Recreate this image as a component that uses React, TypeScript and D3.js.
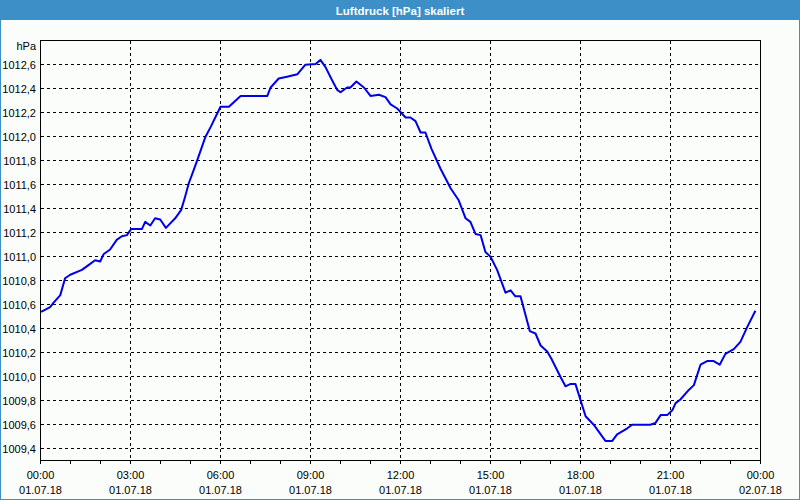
import React from "react";
import * as d3 from "d3";

// Time of day in hours (01.07.18 00:00 = 0)
const hours: number[] = [
  0.02, 0.32, 0.43, 0.66, 0.82, 0.99, 1.38, 1.6, 1.82, 1.99, 2.1, 2.32, 2.54, 2.71, 2.88,
  3.02, 3.38, 3.49, 3.66, 3.82, 3.99, 4.18, 4.49, 4.69, 4.82, 4.94, 5.06, 5.22, 5.5, 5.67,
  6.0, 6.28, 6.67, 7.56, 7.67, 7.94, 8.22, 8.56, 8.83, 9.17, 9.33, 9.5, 9.72, 9.89, 10.0,
  10.22, 10.33, 10.53, 10.78, 11.0, 11.28, 11.5, 11.67, 11.89, 12.17, 12.33, 12.5, 12.67,
  12.83, 13.03, 13.33, 13.67, 13.94, 14.17, 14.33, 14.5, 14.67, 14.83, 15.0, 15.22, 15.5,
  15.67, 15.83, 16.0, 16.31, 16.5, 16.67, 16.89, 17.03, 17.33, 17.5, 17.67, 17.83, 18.17,
  18.44, 18.83, 19.06, 19.22, 19.56, 19.72, 20.33, 20.5, 20.67, 20.89, 21.06, 21.17, 21.33,
  21.61, 21.78, 22.0, 22.22, 22.44, 22.64, 22.83, 23.11, 23.33, 23.56, 23.83,
];

// Air pressure in hPa
const pressure: number[] = [
  1010.53, 1010.57, 1010.605, 1010.67, 1010.81, 1010.84, 1010.88, 1010.92, 1010.96, 1010.95,
  1011.01, 1011.05, 1011.13, 1011.16, 1011.17, 1011.22, 1011.22, 1011.28, 1011.25, 1011.31,
  1011.3, 1011.23, 1011.31, 1011.38, 1011.49, 1011.6, 1011.68, 1011.79, 1011.99, 1012.07,
  1012.24, 1012.24, 1012.33, 1012.33, 1012.4, 1012.475, 1012.49, 1012.51, 1012.59, 1012.595,
  1012.63, 1012.57, 1012.46, 1012.38, 1012.36, 1012.4, 1012.4, 1012.45, 1012.4, 1012.33,
  1012.34, 1012.32, 1012.26, 1012.225, 1012.15, 1012.15, 1012.12, 1012.025, 1012.025,
  1011.89, 1011.725, 1011.56, 1011.46, 1011.31, 1011.28, 1011.18, 1011.17, 1011.03, 1010.99,
  1010.88, 1010.69, 1010.71, 1010.66, 1010.66, 1010.37, 1010.35, 1010.25, 1010.2, 1010.14,
  1009.99, 1009.91, 1009.93, 1009.93, 1009.66, 1009.59, 1009.455, 1009.455, 1009.51, 1009.56,
  1009.59, 1009.59, 1009.605, 1009.67, 1009.67, 1009.71, 1009.77, 1009.8, 1009.88, 1009.92,
  1010.09, 1010.12, 1010.12, 1010.09, 1010.18, 1010.22, 1010.28, 1010.405, 1010.54,
];

const yTicks: number[] = [
  1009.4, 1009.6, 1009.8, 1010.0, 1010.2, 1010.4, 1010.6, 1010.8, 1011.0, 1011.2, 1011.4,
  1011.6, 1011.8, 1012.0, 1012.2, 1012.4, 1012.6,
];
const xTickHours: number[] = [0, 3, 6, 9, 12, 15, 18, 21, 24];
const xTickTimes: string[] = ["00:00", "03:00", "06:00", "09:00", "12:00", "15:00", "18:00", "21:00", "00:00"];
const xTickDates: string[] = ["01.07.18", "01.07.18", "01.07.18", "01.07.18", "01.07.18", "01.07.18", "01.07.18", "01.07.18", "02.07.18"];
const minorHours: number[] = d3.range(0, 25, 1);

const title = "Luftdruck [hPa] skaliert";
const unit = "hPa";

const W = 800;
const H = 500;
const L = 40.5;
const R = 760.5;
const T = 40.5;
const B = 460.5;
const FRAME = "#3c8fc7";
const FONT = "'Liberation Sans', Arial, sans-serif";

export default function App() {
  const x = d3.scaleLinear().domain([0, 24]).range([L, R]);
  const y = d3.scaleLinear().domain([1009.2917, 1012.7917]).range([B, T]);
  const line = d3
    .line<number>()
    .x((_, i) => x(hours[i]))
    .y((d) => y(d));
  const fmt = (v: number) => v.toFixed(1).replace(".", ",");

  return (
    <svg
      width={W}
      height={H}
      style={{ position: "absolute", left: 0, top: 0, display: "block" }}
      fontFamily={FONT}
    >
      <rect x={0} y={0} width={W} height={H} fill="#fbfdfb" />
      <rect x={0} y={0} width={W} height={20} fill={FRAME} />
      <rect x={0.5} y={0.5} width={W - 1} height={H - 1} fill="none" stroke={FRAME} />
      <text x={W / 2} y={14.5} textAnchor="middle" fill="#ffffff" fontSize={11.5} fontWeight="bold">
        {title}
      </text>

      {/* horizontal grid */}
      {yTicks.map((v) => (
        <line
          key={"h" + v}
          x1={L}
          x2={R}
          y1={Math.round(y(v)) + 0.5}
          y2={Math.round(y(v)) + 0.5}
          stroke="#000"
          strokeDasharray="3,3"
          shapeRendering="crispEdges"
        />
      ))}
      {/* vertical grid */}
      {xTickHours.slice(1, -1).map((h) => (
        <line
          key={"v" + h}
          x1={x(h)}
          x2={x(h)}
          y1={T}
          y2={B}
          stroke="#000"
          strokeDasharray="3,3"
          shapeRendering="crispEdges"
        />
      ))}
      {/* minor ticks */}
      {minorHours.map((h) => (
        <line
          key={"m" + h}
          x1={x(h)}
          x2={x(h)}
          y1={B}
          y2={B + 3.5}
          stroke="#000"
          shapeRendering="crispEdges"
        />
      ))}
      {/* frame */}
      <rect
        x={L}
        y={T}
        width={R - L}
        height={B - T}
        fill="none"
        stroke="#000"
        shapeRendering="crispEdges"
      />

      {/* y labels */}
      <text x={36} y={50} textAnchor="end" fontSize={11} fill="#000">
        {unit}
      </text>
      {yTicks.map((v) => (
        <text key={"yl" + v} x={36} y={Math.round(y(v)) + 4.5} textAnchor="end" fontSize={11} fill="#000">
          {fmt(v)}
        </text>
      ))}

      {/* x labels */}
      {xTickHours.map((h, i) => (
        <g key={"xl" + h}>
          <text x={x(h)} y={479} textAnchor="middle" fontSize={11} fill="#000">
            {xTickTimes[i]}
          </text>
          <text x={x(h)} y={494} textAnchor="middle" fontSize={11} fill="#000">
            {xTickDates[i]}
          </text>
        </g>
      ))}

      <path d={line(pressure) || ""} fill="none" stroke="#0000e6" strokeWidth={2} strokeLinejoin="round" />
    </svg>
  );
}
